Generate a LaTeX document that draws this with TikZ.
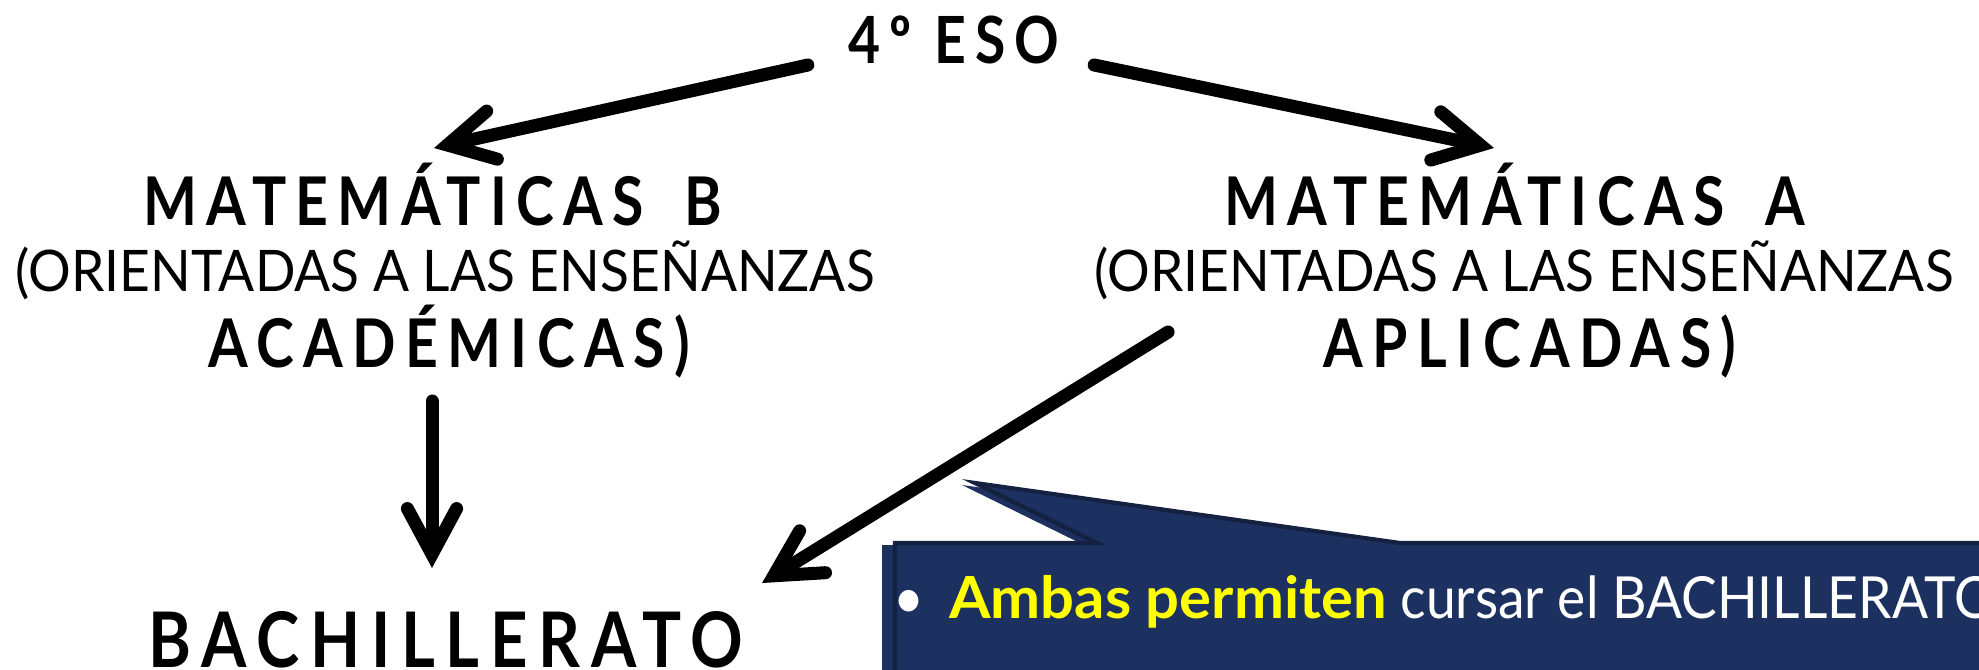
\documentclass[tikz,border=0pt]{standalone}
\usepackage{fontspec}
\setmainfont{Lato}
\newfontfamily\headfont{Lato}[LetterSpace=14,FakeStretch=0.85]
\newfontfamily\subfont{Lato}[FakeStretch=0.93]
\newfontfamily\notefont{Lato}[FakeStretch=0.92]
\newfontfamily\noteboldfont{Lato}[FakeStretch=1.03]
\usetikzlibrary{arrows.meta,calc,positioning}
\definecolor{boxnavy}{HTML}{1D3160}
\definecolor{boxedge}{HTML}{142140}
\definecolor{notetitle}{HTML}{FFFF00}
\tikzset{
    flow/.style={line width=3.7pt, line cap=round,
        -{Straight Barb[length=13pt, width=14pt, line cap=round]}},
    head/.style={inner sep=0pt, anchor=base,
        font=\headfont\bfseries\fontsize{19.1}{22}\selectfont},
    sub/.style={inner sep=0pt, anchor=base,
        font=\subfont\fontsize{16.3}{19}\selectfont},
    callout/.style={fill=boxnavy}
}

\begin{document}
\begin{tikzpicture}[x=0.01cm, y=-0.01cm]
    \useasboundingbox (0, 0) rectangle (1979, 669);
    \clip (0, 0) rectangle (1979, 669);
    % speech bubble
    \fill[callout, shift={(-13, 2)}]
    (895, 543) -- (1097, 543) -- (975, 483) -- (1400, 543) -- (2000, 543)
    -- (2000, 700) -- (895, 700) -- cycle;
    \draw[callout, draw=boxedge, line width=1.2pt]
    (895, 543) -- (1097, 543) -- (975, 483) -- (1400, 543) -- (2000, 543)
    -- (2000, 700) -- (895, 700) -- cycle;
    \node[inner sep=0pt, anchor=base west, text=white,
        font=\notefont\fontsize{16.5}{19}\selectfont] (note) at (893, 618)
    {\textbullet\hspace{7pt}\textcolor{notetitle}{\noteboldfont\bfseries Ambas permiten} cursar el BACHILLERATO};
    % levels
    \node[head, font=\headfont\bfseries\fontsize{18.5}{21}\selectfont] (eso) at (954, 63) {4º ESO};
    \node[head] (matb) at (433, 225) {MATEMÁTICAS\hspace{5pt} B};
    \node[sub] (matbsub) at (445, 291) {(ORIENTADAS A LAS ENSEÑANZAS};
    \node[head] (acad) at (449, 367) {ACADÉMICAS)};
    \node[head] (mata) at (1515, 225) {MATEMÁTICAS\hspace{5pt} A};
    \node[sub] (matasub) at (1524, 291) {(ORIENTADAS A LAS ENSEÑANZAS};
    \node[head] (apl) at (1530, 367) {APLICADAS)};
    \node[head, font=\headfont\bfseries\fontsize{21.8}{25}\selectfont] (bach) at (446, 667) {BACHILLERATO};
    % arrows
    \draw[flow] ($(eso.base west)+(-40, 2)$) -- ($(matb.base)+(1, -77)$);
    \draw[flow] ($(eso.base east)+(34, 2)$) -- ($(mata.base)+(-21, -77)$);
    \draw[flow] ($(matb.base)+(-1, 176)$) -- ($(bach.base)+(-14, -99)$);
    \draw[flow] ($(apl.base west)+(-155, -35)$) -- ($(bach.base east)+(18, -84)$);
\end{tikzpicture}
\end{document}
